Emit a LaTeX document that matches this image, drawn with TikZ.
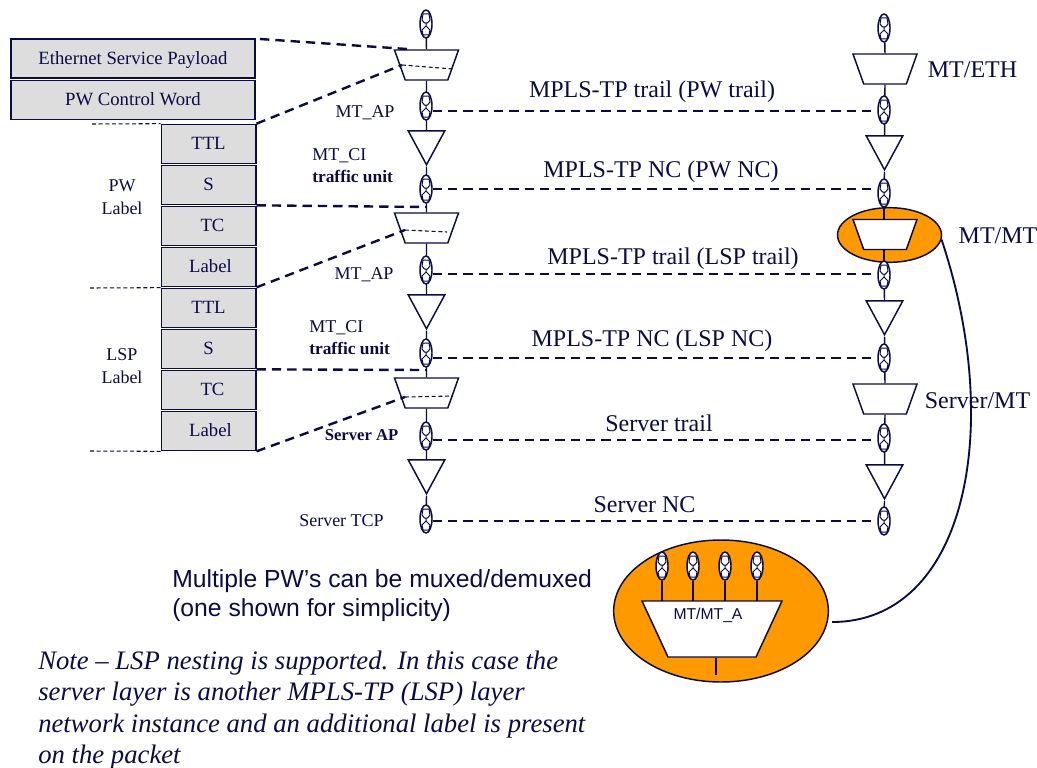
\documentclass[tikz,border=0pt]{standalone}
\usepackage{fontspec}
\setmainfont{Liberation Serif}
\newfontfamily\lsans{Liberation Sans}
\usetikzlibrary{shapes.geometric}
\definecolor{ink}{HTML}{0B0B45}
\definecolor{orangefill}{HTML}{FF9900}
\definecolor{boxgrey}{HTML}{DDDDDD}
\newcommand{\fpx}[1]{\fontsize{\the\dimexpr #1pt*3/4\relax}{\the\dimexpr #1pt*9/10\relax}\selectfont}
\newcommand{\ee}{\phantom{.}}
\newcommand{\glyph}[3]{%
  \node[cpoint] (#1) at (#2,#3) {};
  \draw[cline,line width=0.75pt] (#2-3,#3-10) -- (#2+3,#3-10) -- (#2+4,#3-4) -- (#2+1.5,#3-1) -- (#2-1.5,#3-1) -- (#2-4,#3-4) -- cycle
    (#2,#3-1) -- (#2,#3+2)
    (#2,#3+2) -- (#2+4,#3+6) -- (#2+3,#3+11) -- (#2-3,#3+11) -- (#2-4,#3+6) -- cycle;
}
\tikzset{
  x=0.75pt,y=-0.75pt,
  every node/.style={text=ink},
  cline/.style={draw=ink,line width=1.1pt},
  cpoint/.style={ellipse,draw=ink,line width=1.1pt,fill=white,minimum width=9pt,minimum height=21pt,inner sep=0pt},
  muxbox/.style={trapezium,draw=ink,line width=1.1pt,fill=white,shape border rotate=180,trapezium stretches=true,trapezium left angle=62,trapezium right angle=62,minimum width=48pt,minimum height=22.5pt,inner sep=0pt},
  bigmux/.style={muxbox,minimum width=105pt,minimum height=42pt,trapezium left angle=58,trapezium right angle=58},
  termbox/.style={isosceles triangle,isosceles triangle stretches=true,draw=ink,line width=1.1pt,fill=white,shape border rotate=270,minimum width=27.5pt,minimum height=25.5pt,inner sep=0pt},
  stackbox/.style={draw=ink,line width=1pt,fill=boxgrey,inner sep=0pt,font=\fpx{18.7},text height=0.98em,text depth=0.1em},
  labelbig/.style={font=\fpx{24},inner sep=0pt},
  labelsm/.style={font=\fpx{18},inner sep=0pt,align=center},
  heavydash/.style={draw=ink,line width=1.8pt,dash pattern=on 7pt off 4.5pt},
  thindash/.style={draw=ink,line width=0.8pt,dash pattern=on 3pt off 2pt},
}
\begin{document}
\begin{tikzpicture}
\useasboundingbox (0,0) rectangle (1037,767);
% stack
\node[stackbox,minimum width=183pt,minimum height=29pt] (eth) at (133,58.5) {Ethernet Service Payload};
\node[stackbox,minimum width=183pt,minimum height=29.5pt] (cw) at (133,100) {PW Control Word};
\foreach \nm/\yy/\tx/\sft in {a/144/TTL/0pt,b/185/S/0pt,c/226/TC/6pt,d/267/Label/3pt,e/308/TTL/0pt,f/349/S/0pt,g/390/TC/6pt,h/431/Label/3pt}
  \node[stackbox,minimum width=71pt,minimum height=29.5pt] (s\nm) at (208.5,\yy) {\hspace*{\sft}\tx};
\coordinate (ph1) at (92,124); \coordinate (ph2) at (90,288); \coordinate (ph3) at (90,451);
\draw[thindash] (ph1) -- (sa.north west);
\draw[thindash] (ph2) -- (se.north west);
\draw[thindash] (ph3) -- (sh.south west);
\node[labelsm] (pwl) at (122,197) {PW\\[1pt]Label};
\node[labelsm] (lspl) at (122,366) {LSP\\[1pt]Label};
% left column
\coordinate (lTop) at (426,10);
\coordinate (lEnd) at (426,533);
\coordinate (rEnd) at (884,534);
\coordinate (rTop) at (884,14);
\node[muxbox] (lm1) at (426.5,65) {\ee};
\node[termbox] (lt1) at (426.5,141) {\ee};
\node[muxbox] (lm2) at (426.5,228) {\ee};
\node[termbox] (lt2) at (426.5,305) {\ee};
\node[muxbox] (lm3) at (426.5,393) {\ee};
\node[termbox] (lt3) at (426.5,470) {\ee};
\draw[cline] (lTop) -- (lm1.north);
\draw[cline] (lm1.south) -- (lt1.north);
\draw[cline] (lt1.south) -- (lm2.north);
\draw[cline] (lm2.south) -- (lt2.north);
\draw[cline] (lt2.south) -- (lm3.north);
\draw[cline] (lm3.south) -- (lt3.north);
\draw[cline] (lt3.south) -- (lEnd);
\glyph{la}{426}{24}
\glyph{lb}{426}{106}
\glyph{lc}{426}{189}
\glyph{ld}{426}{270}
\glyph{le}{426}{353}
\glyph{lf}{426}{436}
\glyph{lg}{426}{519}
% right column
\node[muxbox] (rm1) at (885,69) {\ee};
\node[termbox] (rt1) at (884.5,146) {\ee};
\node[ellipse,draw=ink,line width=1.1pt,fill=orangefill,minimum width=78pt,minimum height=41pt,inner sep=0pt] (ro) at (889.5,235) {};
\node[termbox] (rt2) at (884.5,311) {\ee};
\node[muxbox] (rm3) at (885,399) {\ee};
\node[termbox] (rt3) at (884.5,475) {\ee};
\draw[cline] (rTop) -- (rm1.north);
\draw[cline] (rm1.south) -- (rt1.north);
\draw[cline] (rt1.south) -- (884,207);
\draw[cline] (884,207) -- (884,262);
\draw[cline] (884,262) -- (rt2.north);
\draw[cline] (rt2.south) -- (rm3.north);
\draw[cline] (rm3.south) -- (rt3.north);
\draw[cline] (rt3.south) -- (rEnd);
\node[muxbox] (rm2) at (885,234.5) {\ee};
\glyph{ra}{884}{28}
\glyph{rb}{884}{110}
\glyph{rc}{884}{193}
\glyph{rd}{884}{275}
\glyph{re}{884}{358}
\glyph{rf}{884}{438}
\glyph{rg}{884}{521}
% horizontal trails
\draw[heavydash] (lb.east |- 0,111) -- (rb.west |- 0,111);
\draw[heavydash] (lc.east |- 0,189) -- (rc.west |- 0,189);
\draw[heavydash] (ld.east |- 0,274) -- (rd.west |- 0,274);
\draw[heavydash] (le.east |- 0,358) -- (re.west |- 0,358);
\draw[heavydash] (lf.east |- 0,440) -- (rf.west |- 0,440);
\draw[heavydash] (lg.east |- 0,521) -- (rg.west |- 0,521);
\node[labelbig] (t1) at (652,91.5) {MPLS-TP trail (PW trail)};
\node[labelbig] (t2) at (661,172) {MPLS-TP NC (PW NC)};
\node[labelbig] (t3) at (673,259) {MPLS-TP trail (LSP trail)};
\node[labelbig] (t4) at (652,341) {MPLS-TP NC (LSP NC)};
\node[labelbig] (t5) at (659,423) {Server trail};
\node[labelbig] (t6) at (644.5,505) {Server NC};
% leaders
\coordinate (e1) at (260,39);
\draw[heavydash] (e1) -- (lm1.north west);
\coordinate (d1a) at (402,65); \coordinate (d1b) at (453,69);
\coordinate (d2a) at (405,230); \coordinate (d2b) at (447,232);
\coordinate (d3a) at (405,397); \coordinate (d3b) at (453,396);
\coordinate (c2) at (426,207); \coordinate (c3) at (426,370);
\draw[thindash] (d1a) -- (d1b);
\draw[thindash] (d2a) -- (d2b);
\draw[thindash] (d3a) -- (d3b);
\draw[heavydash] (sa.north east) -- (d1a);
\draw[heavydash] (sb.south east) -- (c2);
\draw[heavydash] (sd.south east) -- (d2a);
\draw[heavydash] (sf.south east) -- (c3);
\draw[heavydash] (sh.south east) -- (d3a);
% left labels
\node[labelsm] (ap1) at (365,113) {MT\_AP};
\node[labelsm,align=left,anchor=west] (ci1) at (312,166) {MT\_CI\\[0.5pt]{\fpx{17.4}\bfseries traffic unit}};
\node[labelsm] (ap2) at (364,275) {MT\_AP};
\node[labelsm,align=left,anchor=west] (ci2) at (309,338) {MT\_CI\\[0.5pt]{\fpx{17.4}\bfseries traffic unit}};
\node[labelsm,font=\fpx{16.6}\bfseries] (ap3) at (361.5,435) {Server AP};
\node[labelsm] (tcp) at (341.5,521) {Server TCP};
% right labels
\node[labelbig] (r1) at (972.5,70) {MT/ETH};
\node[labelbig] (r2) at (998,236) {MT/MT};
\node[labelbig] (r3) at (977.5,401) {Server/MT};
% big ellipse
\node[ellipse,draw=ink,line width=1.1pt,fill=orangefill,minimum width=161pt,minimum height=106.5pt,inner sep=0pt] (bo) at (721,611) {};
\node[bigmux] (bm) at (712,629) {\ee};
\coordinate (b0) at (716,675);
\draw[cline] (b0 |- bm.south) -- (b0);
\foreach \nm/\xx in {p/662,q/693,r/725,s/757}{
  \coordinate (bt\nm) at (\xx,601);
  \glyph{b\nm}{\xx}{566}
  \draw[cline] (b\nm.south) -- (bt\nm);
}
\node[font=\lsans\fpx{15.7},inner sep=0pt] (bl) at (708,615) {MT/MT\_A};
\coordinate (cEnd) at (832,622);
\draw[draw=ink,line width=1.4pt] (ro.-5) .. controls (1005,430) and (965,622) .. (cEnd);
% notes
\node[font=\lsans\fpx{24.7},inner sep=0pt,align=left,anchor=north west] (mul) at (172,569) {Multiple PW’s can be muxed/demuxed\\[-0.5pt](one shown for simplicity)};
\node[font=\fpx{26.7}\itshape,inner sep=0pt,align=left,anchor=north west] (note) at (38,651) {Note – LSP nesting is supported. In this case the\\[-0.7pt]server layer is another MPLS-TP (LSP) layer\\[-0.7pt]network instance and an additional label is present\\[-0.7pt]on the packet};
\end{tikzpicture}
\end{document}
